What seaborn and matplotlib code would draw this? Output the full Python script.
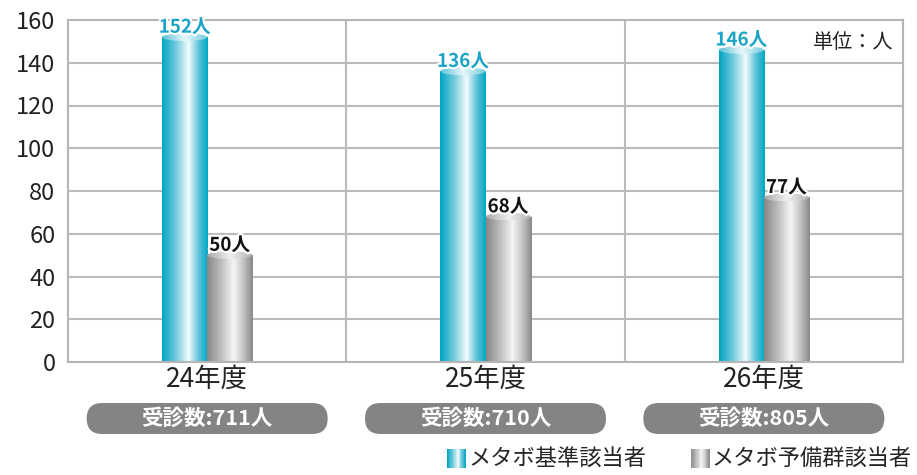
import numpy as np
import pandas as pd
import matplotlib
matplotlib.use('Agg')
import matplotlib.pyplot as plt
import matplotlib.patheffects as pe
import seaborn as sns
from matplotlib.colors import LinearSegmentedColormap
from matplotlib.patches import Ellipse, FancyBboxPatch, Rectangle
from matplotlib.legend_handler import HandlerBase

# Chart data
years = ['24年度', '25年度', '26年度']
kijun = [152, 136, 146]       # メタボ基準該当者
yobi = [50, 68, 77]           # メタボ予備群該当者
examinees = [711, 710, 805]   # 受診数
groups = ['メタボ基準該当者', 'メタボ予備群該当者']

sns.set_style('white')
plt.rcParams['font.family'] = ['Noto Sans CJK JP', 'DejaVu Sans']

df = pd.DataFrame({'year': years * 2,
                   'count': kijun + yobi,
                   'group': [groups[0]] * 3 + [groups[1]] * 3})

# Cylinder-like shading, dark edges and a light band near the middle
blue_cmap = LinearSegmentedColormap.from_list(
    'blue', [(0, '#00a4c2'), (0.3, '#6fcadc'), (0.58, '#f4fbfd'), (0.8, '#5ec3d8'), (1, '#00a6c4')])
gray_cmap = LinearSegmentedColormap.from_list(
    'gray', [(0, '#868686'), (0.3, '#bdbdbd'), (0.58, '#f6f6f6'), (0.8, '#c2c2c2'), (1, '#888888')])
blue_cap = LinearSegmentedColormap.from_list('bcap', ['#5cc3d8', '#e8f7fa', '#6fcadc'])
gray_cap = LinearSegmentedColormap.from_list('gcap', ['#a8a8a8', '#f0f0f0', '#b0b0b0'])

fig = plt.figure(figsize=(9.17, 4.75), dpi=100)
ax = fig.add_axes([68 / 917, 1 - 362 / 475, (903 - 68) / 917, (362 - 20) / 475])

sns.barplot(data=df, x='year', y='count', hue='group', hue_order=groups,
            palette=['#00a6c4', '#888888'], width=0.324, gap=0, ax=ax,
            legend=False, errorbar=None, zorder=2)

cap_h = 3.6
grad = np.linspace(0, 1, 256).reshape(1, -1)
bars = [p for p in ax.patches if p.get_height() > 0]
for p in bars:
    x0, w, h = p.get_x(), p.get_width(), p.get_height()
    is_blue = p.get_facecolor()[2] > 0.6
    body = blue_cmap if is_blue else gray_cmap
    cap = blue_cap if is_blue else gray_cap
    im = ax.imshow(grad, cmap=body, extent=[x0, x0 + w, 0, h], aspect='auto', zorder=2)
    im.set_clip_path(p)
    p.set_facecolor('none')
    p.set_edgecolor('none')
    ell = Ellipse((x0 + w / 2, h), w, cap_h, facecolor='none', edgecolor='none', zorder=3)
    ax.add_patch(ell)
    im2 = ax.imshow(grad, cmap=cap, extent=[x0, x0 + w, h - cap_h / 2, h + cap_h / 2],
                    aspect='auto', zorder=3)
    im2.set_clip_path(ell)
    ax.text(x0 + w / 2, h + cap_h * 0.05, f'{int(round(h))}人', ha='center', va='bottom',
            fontsize=13.5, fontweight='bold', color='#1ba4c6' if is_blue else '#111111', zorder=5,
            path_effects=[pe.withStroke(linewidth=3, foreground='white')])

ax.set_xlim(-0.5, 2.5)
ax.set_ylim(0, 160)
ax.set_yticks(range(0, 161, 20))
ax.set_xlabel('')
ax.set_ylabel('')
ax.tick_params(axis='y', length=0, labelsize=17, pad=9, labelcolor='#222222')
ax.tick_params(axis='x', length=0, labelsize=19, pad=3, labelcolor='#222222')

# Grid lines and separators between the years
for y in range(20, 160, 20):
    ax.axhline(y, color='#bbbbbb', lw=1.5, zorder=0)
for x in [0.5, 1.5]:
    ax.axvline(x, color='#bbbbbb', lw=1.5, zorder=0)
for s in ax.spines.values():
    s.set_color('#b5b5b5')
    s.set_linewidth(1.5)

ax.text(0.988, 0.965, '単位：人', transform=ax.transAxes, ha='right', va='top',
        fontsize=14.5, color='#222222')

# Pills with the number of examinees under each year
fig.canvas.draw()
W, H = fig.get_size_inches() * fig.dpi
for i, n in enumerate(examinees):
    cx = ax.transData.transform((i, 0))[0] / W
    pw, ph = 241 / W, 31 / H
    y0 = 1 - 434 / 475
    r = 15.5 / W
    pill = FancyBboxPatch((cx - pw / 2, y0), pw, ph,
                          boxstyle=f'round,pad=0,rounding_size={r}',
                          mutation_aspect=W / H, transform=fig.transFigure,
                          facecolor='#848484', edgecolor='none')
    fig.patches.append(pill)
    fig.text(cx, y0 + ph / 2, f'受診数:{n}人', ha='center', va='center',
             fontsize=15.5, fontweight='bold', color='white')


class GradientHandler(HandlerBase):
    def __init__(self, cmap):
        super().__init__()
        self.cmap = cmap

    def create_artists(self, legend, orig_handle, xdescent, ydescent, width, height, fontsize, trans):
        n = 24
        arts = []
        for k in range(n):
            arts.append(Rectangle((-xdescent + width * k / n, -ydescent), width / n * 1.1, height,
                                  facecolor=self.cmap((k + 0.5) / n), edgecolor='none',
                                  transform=trans))
        return arts


h1 = Rectangle((0, 0), 1, 1)
h2 = Rectangle((0, 0), 1, 1)
fig.legend([h1, h2], groups, loc='lower right', bbox_to_anchor=(912 / 917, 0.008),
           ncol=2, frameon=False, fontsize=16, handlelength=0.85, handleheight=0.9,
           handletextpad=0.1, columnspacing=2.0, borderpad=0, borderaxespad=0,
           handler_map={h1: GradientHandler(blue_cmap), h2: GradientHandler(gray_cmap)})

fig.savefig('out.png', dpi=100)
